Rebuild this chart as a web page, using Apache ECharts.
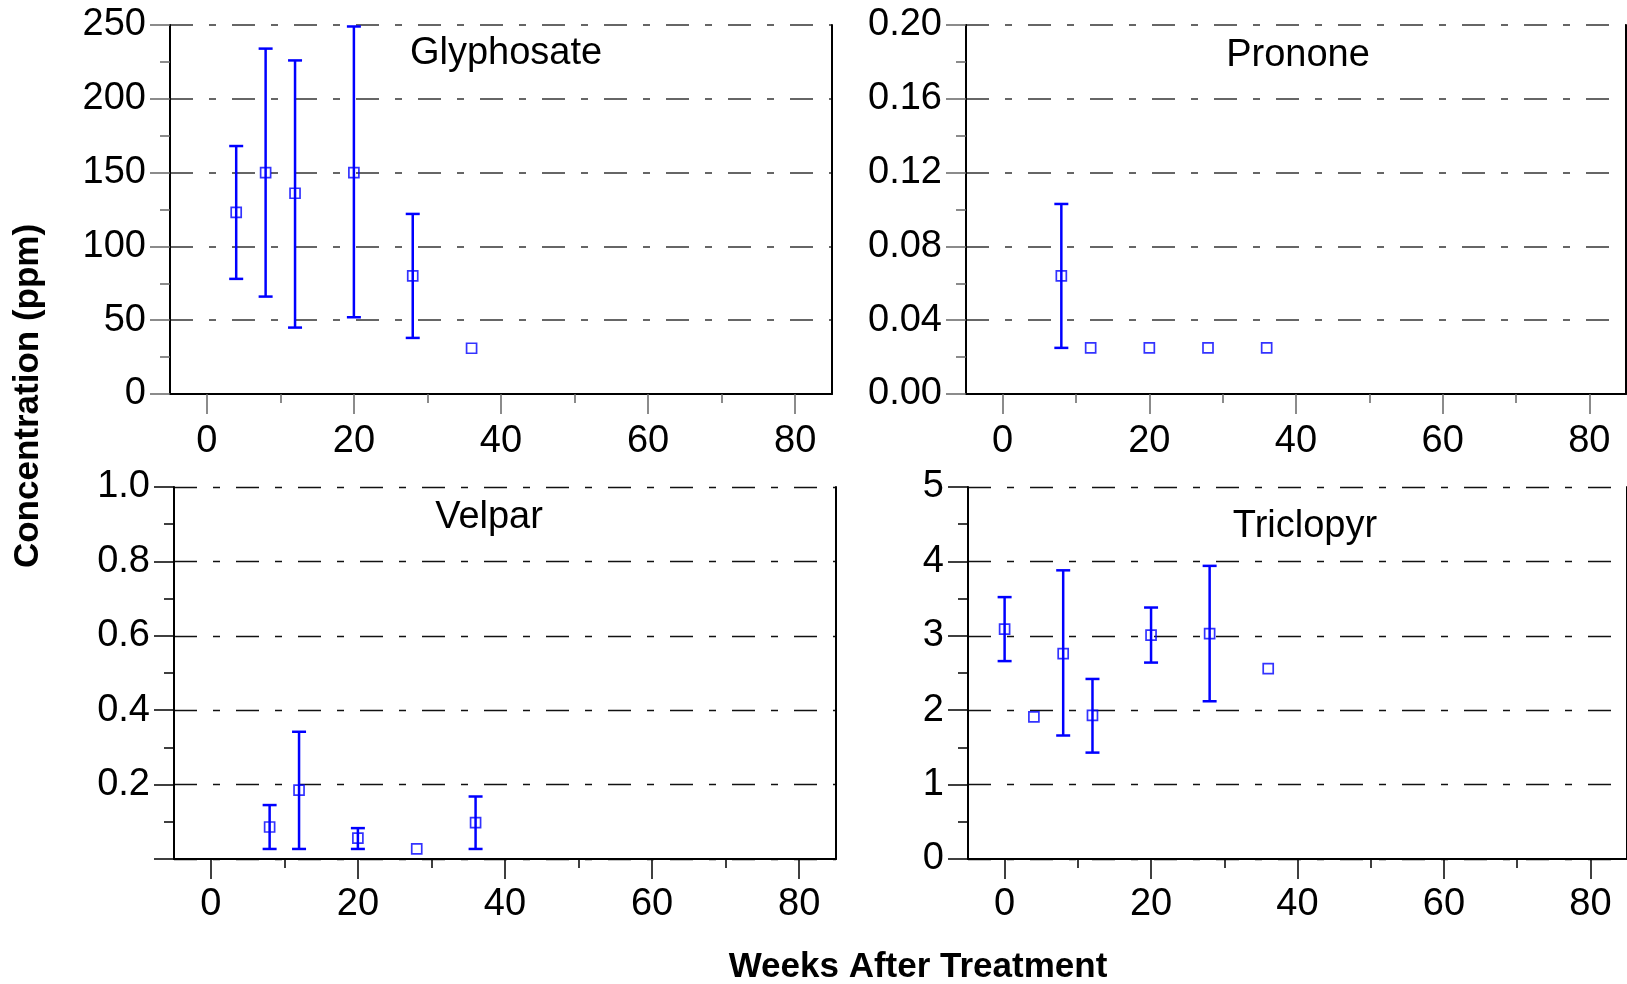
<!DOCTYPE html>
<html>
<head>
<meta charset="utf-8">
<script src="https://cdn.jsdelivr.net/npm/echarts/dist/echarts.min.js"></script>
<style>
html,body{margin:0;padding:0;background:#fff;}
#chart{width:1627px;height:984px;}
</style>
</head>
<body>
<div id="chart"></div>
<script>
// ---- Data ----
const xMajorTicks = [0, 20, 40, 60, 80];
const xMinorTicks = [10, 30, 50, 70];

const glyX = [4, 8, 12, 20, 28, 36];
const glyMean = [123, 150, 136, 150, 80, 31];
const glyLow = [78, 66, 45, 52, 38, null];
const glyHigh = [168, 234, 226, 249, 122, null];

const proX = [8, 12, 20, 28, 36];
const proMean = [0.064, 0.025, 0.025, 0.025, 0.025];
const proLow = [0.025, null, null, null, null];
const proHigh = [0.103, null, null, null, null];

const velX = [8, 12, 20, 28, 36];
const velMean = [0.086, 0.185, 0.056, 0.027, 0.098];
const velLow = [0.027, 0.027, 0.027, null, 0.027];
const velHigh = [0.145, 0.342, 0.083, null, 0.168];

const triX = [0, 4, 8, 12, 20, 28, 36];
const triMean = [3.09, 1.91, 2.76, 1.93, 3.01, 3.03, 2.56];
const triLow = [2.66, null, 1.66, 1.43, 2.64, 2.12, null];
const triHigh = [3.52, null, 3.88, 2.42, 3.38, 3.94, null];

const panelTitles = ['Glyphosate', 'Pronone', 'Velpar', 'Triclopyr'];
const yAxisTitle = 'Concentration (ppm)';
const xAxisTitle = 'Weeks After Treatment';

// ---- Layout / styles ----
const FONT = "'Liberation Sans', Arial, sans-serif";
const BLUE = '#0000ff';
const panels = [
  {grid:{left:170, top:25, width:662, height:369}, yMax:250, yInt:50, fmt:v=>String(v),
   x:glyX, mean:glyMean, low:glyLow, high:glyHigh, tick:'#666', gridCol:'#666', gridW:1.8, title:[506,54], lblMargin:29},
  {grid:{left:966, top:25, width:660, height:369}, yMax:0.2, yInt:0.04, fmt:v=>v.toFixed(2),
   x:proX, mean:proMean, low:proLow, high:proHigh, tick:'#666', gridCol:'#666', gridW:1.8, title:[1298,56], lblMargin:29},
  {grid:{left:174, top:487, width:662, height:372}, yMax:1, yInt:0.2, fmt:v=>v===0?'':v.toFixed(1),
   x:velX, mean:velMean, low:velLow, high:velHigh, tick:'#000', gridCol:'#111', gridW:1.4, title:[489,518], lblMargin:27},
  {grid:{left:968, top:487, width:659, height:372}, yMax:5, yInt:1, fmt:v=>String(v),
   x:triX, mean:triMean, low:triLow, high:triHigh, tick:'#000', gridCol:'#111', gridW:1.4, title:[1305,527], lblMargin:27}
];

const grid = [], xAxis = [], yAxis = [], series = [], graphic = [];

panels.forEach((p, i) => {
  grid.push(Object.assign({containLabel:false}, p.grid));
  // main x axis (major ticks + labels)
  xAxis.push({
    type:'value', gridIndex:i, min:-5, max:85, position:'bottom',
    axisLine:{show:true, onZero:false, lineStyle:{color:'#000', width:2}},
    axisTick:{show:true, customValues:xMajorTicks, length:20, lineStyle:{color:p.tick, width:1.5}},
    axisLabel:{show:true, customValues:xMajorTicks, fontSize:38, fontFamily:FONT, color:'#000', margin:p.lblMargin},
    splitLine:{show:false}
  });
  // minor x ticks
  xAxis.push({
    type:'value', gridIndex:i, min:-5, max:85, position:'bottom',
    axisLine:{show:false, onZero:false},
    axisTick:{show:true, customValues:xMinorTicks, length:9, lineStyle:{color:p.tick, width:1.5}},
    axisLabel:{show:false},
    splitLine:{show:false}
  });
  // main y axis
  yAxis.push({
    type:'value', gridIndex:i, min:0, max:p.yMax, interval:p.yInt, position:'left',
    axisLine:{show:true, onZero:false, lineStyle:{color:'#000', width:2}},
    axisTick:{show:true, length:20, lineStyle:{color:p.tick, width:1.5}},
    minorTick:{show:true, splitNumber:2, length:10, lineStyle:{color:p.tick, width:1.5}},
    axisLabel:{fontSize:38, fontFamily:FONT, color:'#000', margin:24, formatter:p.fmt},
    splitLine:{show:true, lineStyle:{color:p.gridCol, width:p.gridW, type:[23,16,7,16]}}
  });
  // right border
  yAxis.push({
    type:'value', gridIndex:i, min:0, max:p.yMax, interval:p.yInt, position:'right',
    axisLine:{show:true, onZero:false, lineStyle:{color:'#000', width:2}},
    axisTick:{show:false}, axisLabel:{show:false}, splitLine:{show:false}
  });

  const ebData = [];
  p.x.forEach((xv, j) => { if (p.low[j] != null) ebData.push([xv, p.low[j], p.high[j]]); });
  series.push({
    type:'custom', xAxisIndex:2*i, yAxisIndex:2*i, data:ebData,
    encode:{x:0, y:[1,2]}, z:2, silent:true,
    renderItem:function(params, api){
      const x = api.value(0);
      const lo = api.coord([x, api.value(1)]);
      const hi = api.coord([x, api.value(2)]);
      const hw = 7;
      const st = {stroke:BLUE, lineWidth:2.5};
      return {type:'group', children:[
        {type:'line', shape:{x1:lo[0], y1:lo[1], x2:hi[0], y2:hi[1]}, style:st},
        {type:'line', shape:{x1:lo[0]-hw, y1:lo[1], x2:lo[0]+hw, y2:lo[1]}, style:st},
        {type:'line', shape:{x1:hi[0]-hw, y1:hi[1], x2:hi[0]+hw, y2:hi[1]}, style:st}
      ]};
    }
  });
  series.push({
    type:'scatter', xAxisIndex:2*i, yAxisIndex:2*i, z:3,
    data:p.x.map((xv, j) => [xv, p.mean[j]]),
    symbol:'rect', symbolSize:10,
    itemStyle:{color:'rgba(255,255,255,0)', borderColor:BLUE, borderWidth:1.7}
  });

  graphic.push({
    type:'text', x:p.title[0], y:p.title[1],
    style:{text:panelTitles[i], font:'38px ' + FONT, fill:'#000', align:'center', verticalAlign:'middle'}
  });
});

graphic.push({
  type:'text', x:28, y:396, rotation:Math.PI/2,
  style:{text:yAxisTitle, font:'bold 35px ' + FONT, fill:'#000', align:'center', verticalAlign:'middle'}
});
graphic.push({
  type:'text', x:918, y:967,
  style:{text:xAxisTitle, font:'bold 35px ' + FONT, fill:'#000', align:'center', verticalAlign:'middle'}
});

const chart = echarts.init(document.getElementById('chart'), null, {renderer:'canvas'});
chart.setOption({
  animation:false,
  backgroundColor:'#fff',
  grid, xAxis, yAxis, series, graphic
});
</script>
</body>
</html>
